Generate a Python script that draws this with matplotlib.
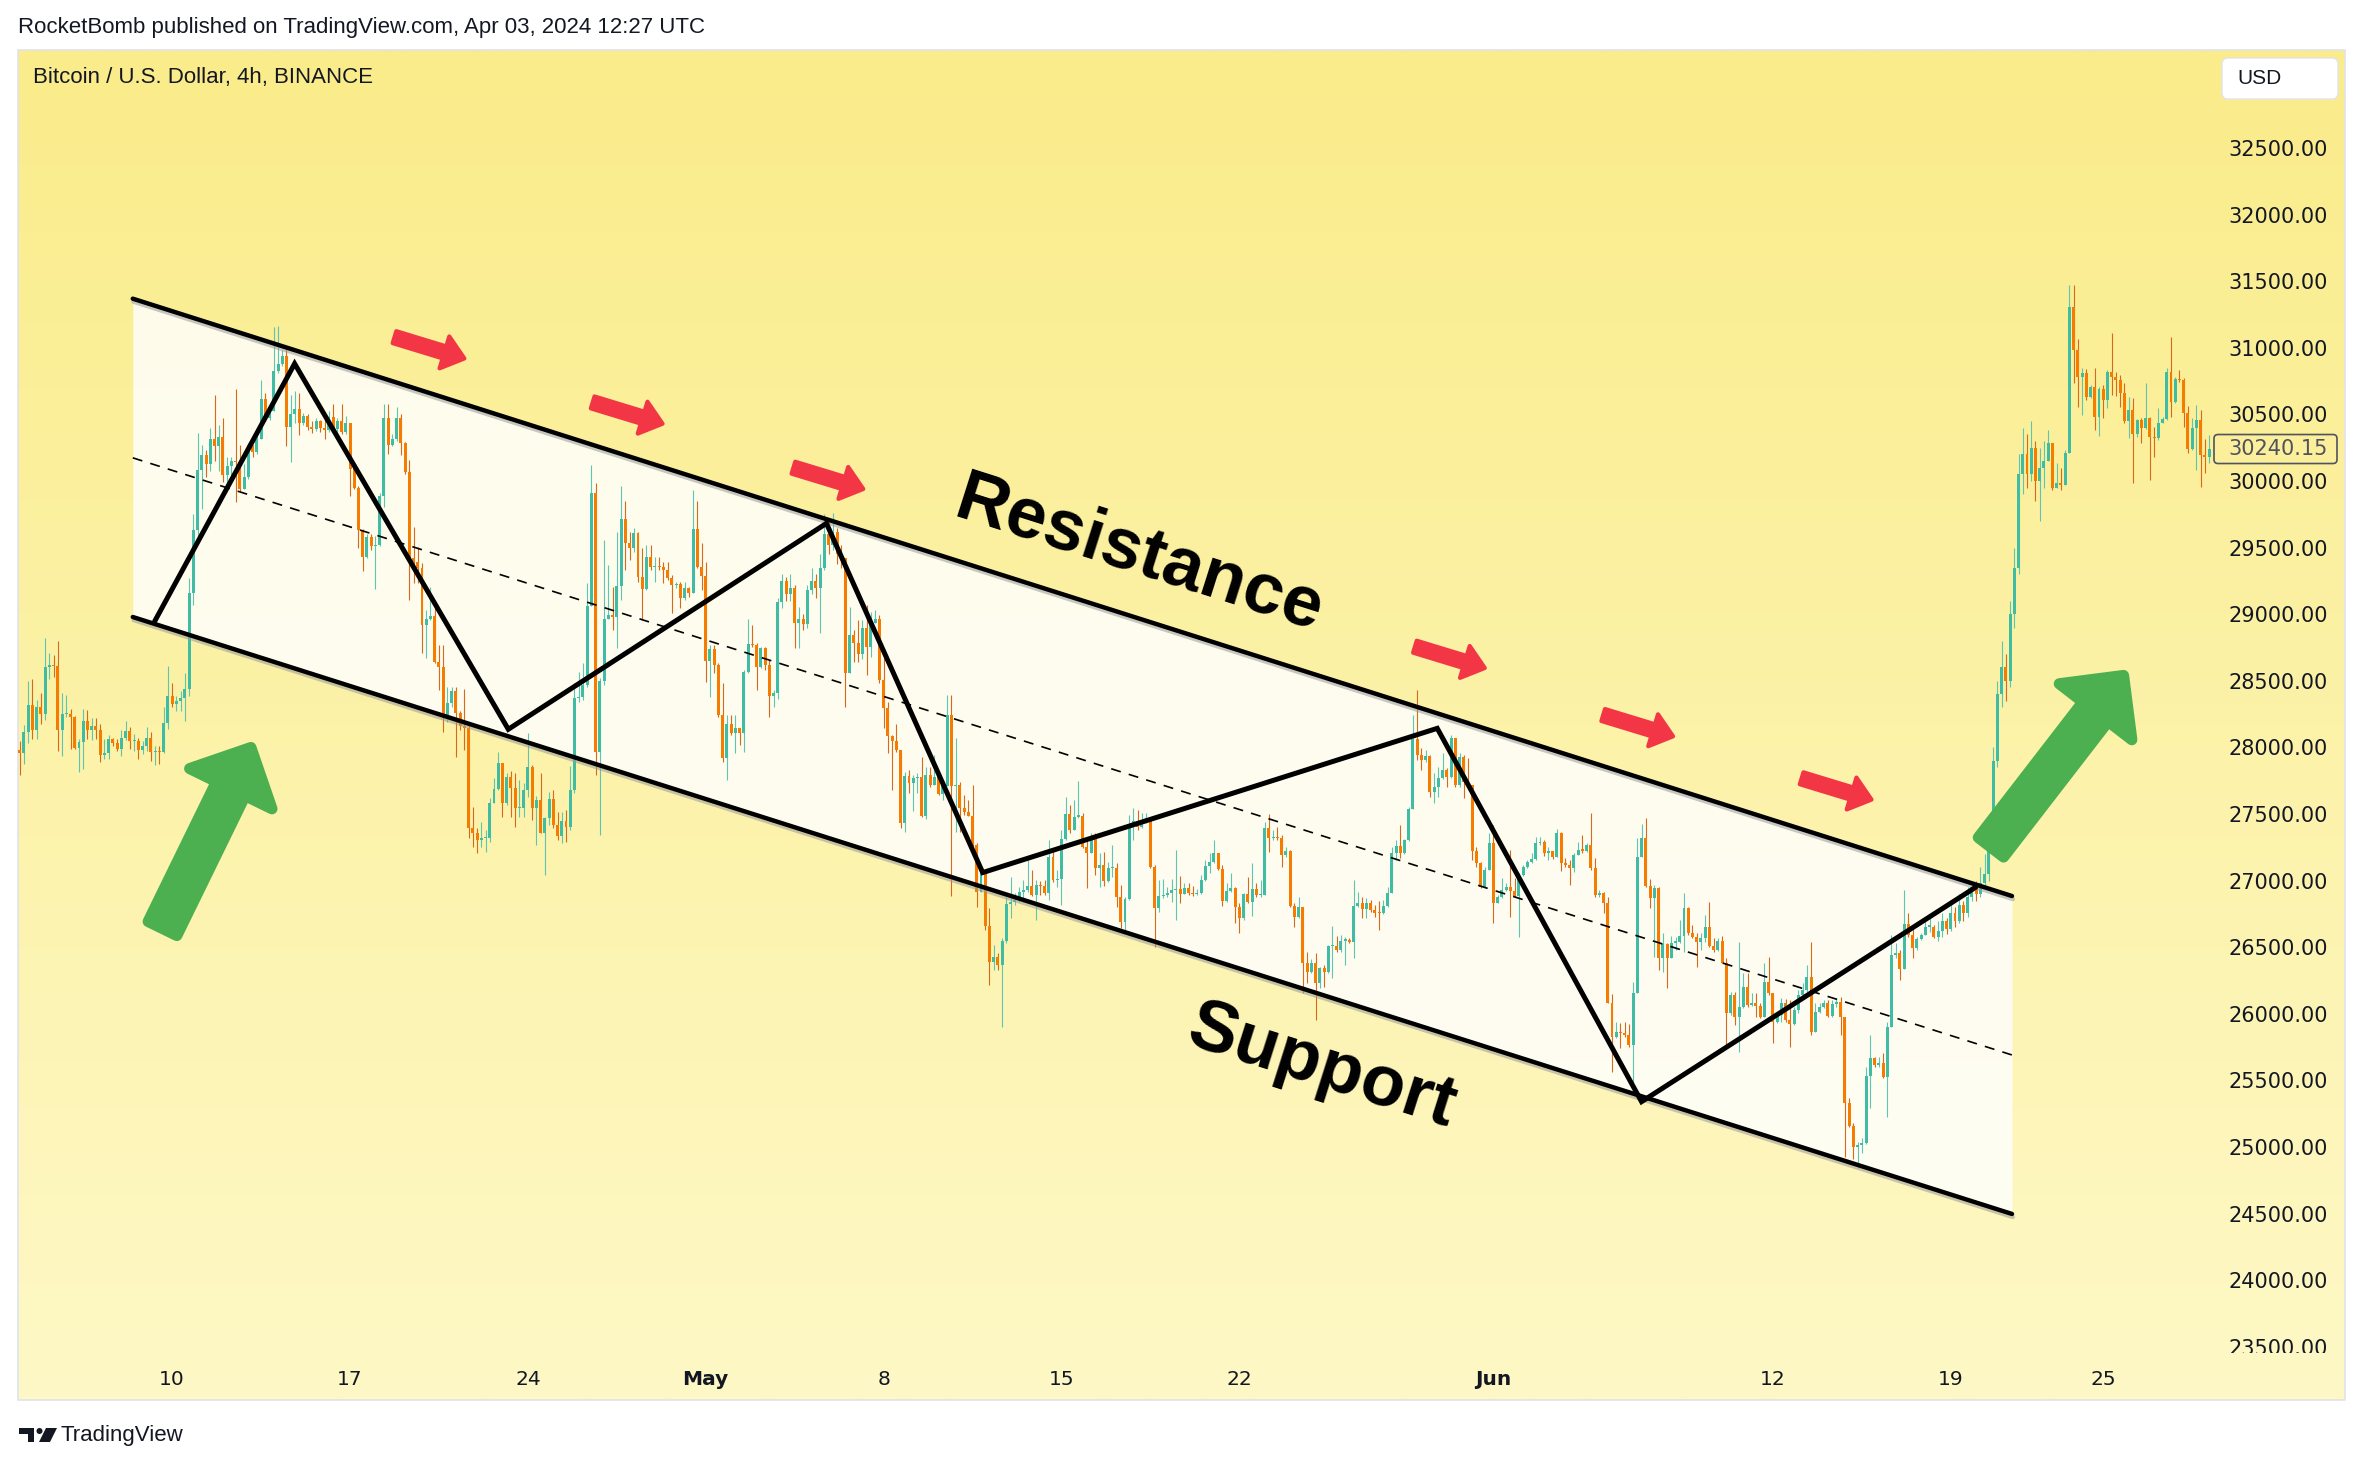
import numpy as np
import pandas as pd
import matplotlib
matplotlib.use("Agg")
import matplotlib.pyplot as plt
import matplotlib.dates as mdates
import matplotlib.patheffects as pe
from matplotlib.patches import FancyArrowPatch, FancyBboxPatch, Rectangle, Polygon, Circle, ArrowStyle
from matplotlib.transforms import Bbox

W, H = 2365, 1466

# ---------------- data (BTC/USD, 4h candles) ----------------
start_time = "2023-04-04 00:00"
first_open = 27981
last_price = 30240.15

close = [
    27959, 28115, 28316, 28128, 28302, 28254, 28603, 28619, 28608, 28133,
    28249, 28254, 28227, 27994, 28040, 28195, 28128, 28160, 28128, 27946,
    27959, 28066, 28034, 27986, 28074, 28123, 28048, 28048, 27981, 28007,
    28074, 27967, 27967, 27962, 28182, 28388, 28329, 28351, 28369, 28442,
    29160, 29630, 30085, 30192, 30131, 30313, 30260, 30332, 30045, 30112,
    30152, 30139, 29943, 30032, 30273, 30219, 30313, 30614, 30474, 30528,
    30828, 30876, 30935, 30407, 30501, 30541, 30434, 30488, 30407, 30388,
    30453, 30399, 30380, 30480, 30388, 30447, 30367, 30434, 30091, 29951,
    29630, 29429, 29576, 29509, 29522, 29890, 30474, 30273, 30319, 30474,
    30283, 30070, 29420, 29395, 29345, 28919, 28962, 28987, 28644, 28601,
    28236, 28331, 28424, 28261, 28161, 28143, 27392, 27355, 27305, 27317,
    27317, 27585, 27685, 27886, 27580, 27780, 27693, 27543, 27543, 27680,
    27855, 27543, 27605, 27360, 27468, 27610, 27418, 27335, 27450, 27405,
    27680, 28369, 28381, 28469, 29062, 29908, 27968, 28501, 28962, 28994,
    28982, 29212, 29712, 29532, 29495, 29607, 29282, 29187, 29432, 29352,
    29357, 29352, 29332, 29269, 29219, 29227, 29119, 29194, 29157, 29640,
    29357, 29287, 28651, 28736, 28619, 28243, 27918, 28176, 28111, 28143,
    28111, 28569, 28776, 28769, 28601, 28744, 28619, 28386, 28406, 29094,
    29250, 29150, 29200, 28932, 28962, 28927, 29180, 29250, 29200, 29350,
    29600, 29520, 29620, 29450, 29420, 28561, 28844, 28787, 28699, 28894,
    28757, 28937, 28962, 28506, 28294, 28086, 28051, 27981, 27430, 27786,
    27731, 27768, 27781, 27485, 27793, 27718, 27781, 27651, 27711, 28244,
    27711, 27718, 27543, 27518, 27485, 27268, 26917, 27060, 26660, 26392,
    26424, 26367, 26550, 26825, 26842, 26855, 26917, 26930, 26960, 26892,
    26967, 26960, 26905, 27180, 27005, 27010, 27310, 27500, 27380, 27480,
    27485, 27255, 27205, 27325, 27093, 27118, 27000, 27093, 27093, 26875,
    26692, 26860, 27425, 27450, 27405, 27443, 27468, 27105, 26792, 26884,
    26892, 26904, 26929, 26934, 26899, 26942, 26904, 26899, 26904, 27004,
    27109, 27142, 27204, 27084, 26849, 26924, 26942, 26799, 26716, 26899,
    26842, 26934, 26892, 26892, 27392, 27317, 27330, 27317, 27192, 27224,
    26809, 26724, 26804, 26379, 26316, 26384, 26228, 26341, 26316, 26509,
    26509, 26479, 26549, 26554, 26541, 26809, 26834, 26784, 26829, 26779,
    26759, 26754, 26809, 26909, 27204, 27259, 27204, 27304, 27535, 28060,
    27943, 27905, 27935, 27667, 27700, 27767, 27830, 27775, 28068, 27717,
    27930, 27742, 27717, 27224, 27129, 26954, 27079, 27280, 26834, 26879,
    26929, 26954, 26924, 26884, 27042, 27104, 27142, 27159, 27280, 27292,
    27204, 27225, 27180, 27360, 27135, 27118, 27092, 27193, 27230, 27225,
    27268, 27092, 26892, 26910, 26835, 26084, 25824, 25866, 25854, 25841,
    25766, 26154, 27175, 27318, 26960, 26867, 26942, 26417, 26524, 26417,
    26534, 26542, 26584, 26792, 26604, 26574, 26542, 26567, 26649, 26509,
    26479, 26549, 26384, 26004, 26141, 25974, 26049, 26204, 26066, 26084,
    26059, 25979, 26242, 26154, 25941, 25991, 26084, 25954, 25924, 26029,
    26141, 26179, 26279, 25866, 26016, 26054, 26079, 25984, 26074, 26091,
    25974, 25333, 25158, 24998, 25015, 25028, 25533, 25666, 25616, 25629,
    25523, 25904, 26442, 26454, 26334, 26674, 26592, 26492, 26559, 26592,
    26654, 26654, 26580, 26620, 26700, 26640, 26760, 26700, 26820, 26760,
    26880, 26950, 26900, 26980, 27050, 27300, 27900, 28400, 28600, 28500,
    29000, 29350, 30050, 30200, 30050, 30250, 30000, 30100, 30150, 30283,
    29945, 29982, 29970, 30213, 31309, 30983, 30783, 30808, 30628, 30703,
    30478, 30688, 30608, 30821, 30778, 30758, 30663, 30453, 30533, 30353,
    30458, 30395, 30470, 30333, 30325, 30438, 30463, 30821, 30596, 30763,
    30758, 30508, 30238, 30395, 30458, 30195, 30178, 30240.15,
]

high = [
    28048, 28168, 28495, 28517, 28356, 28410, 28825, 28705, 28697, 28798,
    28410, 28396, 28289, 28235, 28061, 28289, 28281, 28222, 28222, 28174,
    28066, 28093, 28074, 28061, 28128, 28195, 28155, 28101, 28074, 28048,
    28155, 28115, 28007, 28007, 28302, 28611, 28485, 28383, 28423, 28557,
    29268, 29756, 30362, 30273, 30233, 30399, 30648, 30421, 30474, 30179,
    30179, 30689, 30273, 30126, 30287, 30260, 30340, 30756, 30662, 30568,
    31158, 31163, 30984, 30997, 30648, 30675, 30662, 30514, 30501, 30447,
    30474, 30461, 30474, 30522, 30576, 30474, 30576, 30488, 30434, 30099,
    29965, 29643, 29603, 29603, 29589, 29911, 30581, 30581, 30354, 30555,
    30500, 30290, 30160, 29657, 29507, 29382, 29032, 29207, 29057, 28769,
    28769, 28456, 28456, 28456, 28273, 28436, 28181, 27555, 27392, 27443,
    27380, 27618, 27768, 27968, 27886, 27805, 27825, 27805, 27755, 27730,
    28106, 27868, 27635, 27805, 27480, 27668, 27680, 27518, 27518, 27530,
    27861, 28481, 28569, 28631, 29232, 30120, 29983, 28519, 29557, 29370,
    29207, 29620, 29963, 29852, 29620, 29645, 29620, 29495, 29520, 29520,
    29432, 29432, 29395, 29395, 29294, 29244, 29244, 29244, 29207, 29933,
    29852, 29532, 29395, 28769, 28769, 28631, 28481, 28243, 28243, 28243,
    28143, 28581, 28962, 28919, 28781, 28756, 28756, 28657, 28431, 29120,
    29300, 29280, 29300, 29220, 29057, 29000, 29220, 29350, 29300, 29450,
    29750, 29700, 29760, 29650, 29520, 29420, 29057, 28882, 28957, 28957,
    29069, 29019, 29032, 28994, 28732, 28344, 28094, 28176, 27981, 27818,
    27831, 27793, 27811, 27926, 27856, 27856, 27943, 27806, 27718, 28394,
    28394, 28068, 27743, 27643, 27605, 27718, 27280, 27075, 27080, 26792,
    26517, 26459, 26567, 26880, 27030, 26905, 26955, 27005, 27155, 27080,
    27005, 27000, 27005, 27305, 27218, 27080, 27380, 27630, 27568, 27605,
    27748, 27505, 27330, 27355, 27355, 27205, 27218, 27143, 27268, 27130,
    26967, 26880, 27493, 27543, 27530, 27505, 27505, 27480, 27118, 27004,
    27009, 26954, 27009, 27229, 27034, 26979, 26979, 26959, 26934, 27042,
    27154, 27204, 27305, 27209, 27117, 26979, 27054, 26954, 26829, 26909,
    27029, 27134, 26984, 27004, 27442, 27500, 27380, 27405, 27342, 27254,
    27229, 26829, 26879, 26804, 26466, 26409, 26454, 26354, 26366, 26516,
    26659, 26584, 26591, 26579, 26566, 27004, 26917, 26879, 26867, 26854,
    26817, 26849, 26854, 26954, 27254, 27304, 27417, 27310, 27555, 28243,
    28431, 27993, 27980, 27943, 27805, 27855, 27955, 27843, 28093, 28068,
    27955, 27943, 27918, 27717, 27254, 27142, 27104, 27355, 27417, 26892,
    27017, 26979, 27229, 27017, 27054, 27117, 27154, 27204, 27330, 27330,
    27305, 27255, 27225, 27385, 27368, 27167, 27155, 27205, 27293, 27343,
    27280, 27505, 27167, 26930, 26917, 26880, 26149, 25941, 25929, 25941,
    25924, 26242, 27318, 27425, 27468, 27010, 26967, 26955, 26604, 26534,
    26584, 26579, 26704, 26905, 26805, 26667, 26604, 26604, 26742, 26842,
    26567, 26567, 26584, 26417, 26167, 26167, 26542, 26304, 26304, 26154,
    26159, 26079, 26379, 26424, 26154, 26016, 26117, 26109, 26104, 26054,
    26179, 26229, 26367, 26542, 26079, 26079, 26104, 26104, 26104, 26117,
    26129, 25979, 25366, 25178, 25040, 25065, 25603, 25841, 25679, 25679,
    25709, 25941, 26592, 26529, 26479, 26930, 26755, 26654, 26579, 26604,
    26704, 26729, 26667, 26700, 26760, 26720, 26820, 26800, 26900, 26850,
    26950, 27000, 27000, 27100, 27200, 27400, 28000, 28500, 28800, 28700,
    29100, 29500, 30200, 30400, 30350, 30450, 30300, 30250, 30300, 30383,
    30120, 30133, 30095, 30233, 31471, 31471, 31063, 30846, 30838, 30721,
    30846, 30708, 30721, 30833, 31109, 30821, 30796, 30733, 30633, 30621,
    30463, 30470, 30733, 30483, 30408, 30545, 30483, 30846, 31084, 30783,
    30833, 30771, 30563, 30470, 30571, 30533, 30313, 30345,
]

low = [
    27793, 27873, 28034, 28066, 28066, 28174, 28208, 28517, 28530, 27975,
    27932, 28227, 27986, 27986, 27814, 27841, 28066, 28053, 28066, 27887,
    27914, 27914, 28013, 27973, 27932, 28056, 27986, 27975, 27914, 27954,
    27975, 27900, 27865, 27873, 27959, 28141, 28302, 28276, 28276, 28200,
    28383, 29067, 29589, 29790, 30032, 30072, 30152, 30072, 29992, 29965,
    30045, 29844, 29925, 29938, 30018, 30179, 30206, 30380, 30447, 30461,
    30528, 30809, 30863, 30265, 30139, 30434, 30345, 30421, 30380, 30362,
    30372, 30367, 30313, 30367, 30372, 30362, 30354, 30354, 29884, 29938,
    29496, 29321, 29423, 29482, 29192, 29509, 29804, 30201, 30260, 30300,
    30195, 30050, 29107, 29232, 29232, 28706, 28669, 28957, 28631, 28431,
    28118, 28193, 28306, 27931, 28131, 27981, 27317, 27255, 27205, 27255,
    27217, 27292, 27580, 27680, 27480, 27568, 27480, 27405, 27480, 27480,
    27630, 27455, 27268, 27355, 27042, 27418, 27393, 27305, 27280, 27292,
    27380, 27655, 28344, 28356, 28456, 29062, 27793, 27342, 28469, 28962,
    28882, 28744, 29107, 29332, 29407, 29470, 29244, 28957, 29182, 29332,
    29244, 29332, 29232, 29257, 29007, 29194, 29044, 29107, 29132, 29157,
    29345, 29182, 28494, 28381, 28556, 28231, 27893, 27756, 28093, 27956,
    28018, 27968, 28556, 28756, 28431, 28594, 28581, 28231, 28306, 28361,
    29050, 29100, 29100, 28749, 28749, 28880, 28900, 29150, 29120, 28862,
    29330, 29450, 29480, 29380, 29350, 28306, 28561, 28644, 28644, 28662,
    28544, 28682, 28932, 28486, 28144, 27956, 27681, 27968, 27393, 27368,
    27661, 27525, 27656, 27475, 27460, 27706, 27718, 27643, 27605, 27711,
    26885, 27368, 27368, 27493, 27485, 27255, 26805, 26917, 26630, 26217,
    26329, 26329, 25904, 26529, 26717, 26817, 26842, 26842, 26917, 26885,
    26705, 26892, 26892, 26855, 26992, 26950, 26817, 27305, 27355, 27380,
    27468, 27243, 26942, 27205, 27043, 26955, 26960, 26992, 27030, 26800,
    26642, 26630, 26855, 27305, 27380, 27393, 27430, 27093, 26504, 26767,
    26867, 26879, 26842, 26704, 26829, 26899, 26892, 26884, 26892, 26899,
    26999, 27054, 27134, 27079, 26809, 26842, 26917, 26679, 26604, 26704,
    26829, 26734, 26879, 26879, 26892, 27217, 27305, 27305, 27104, 27179,
    26804, 26654, 26716, 26153, 26228, 26304, 25953, 26191, 26203, 26304,
    26266, 26466, 26466, 26366, 26529, 26416, 26804, 26716, 26716, 26767,
    26729, 26629, 26749, 26804, 26904, 27154, 27167, 27199, 27300, 27535,
    27905, 27830, 27893, 27630, 27580, 27630, 27760, 27705, 27767, 27705,
    27705, 27617, 27705, 27154, 27104, 26942, 26942, 27079, 26684, 26829,
    26867, 26924, 26729, 26879, 26579, 27034, 27092, 27129, 27154, 27267,
    27184, 27155, 27160, 27180, 27075, 27105, 26967, 27067, 27193, 27205,
    27218, 27080, 26880, 26880, 26755, 26079, 25566, 25816, 25741, 25829,
    25754, 25466, 26159, 27175, 26955, 26792, 26424, 26329, 26317, 26192,
    26417, 26479, 26529, 26467, 26592, 26567, 26354, 26479, 26542, 26504,
    26467, 26474, 26379, 25766, 25991, 25916, 25716, 26041, 26054, 26059,
    25979, 25966, 25974, 26141, 25779, 25929, 25941, 25941, 25754, 25916,
    26004, 26116, 26167, 25841, 25866, 26004, 26041, 25974, 25979, 26054,
    25841, 24928, 25148, 24908, 24840, 24953, 25023, 25291, 25603, 25603,
    25516, 25228, 25904, 26417, 26254, 26334, 26579, 26417, 26479, 26554,
    26592, 26617, 26567, 26550, 26580, 26600, 26620, 26650, 26680, 26700,
    26730, 26850, 26850, 26880, 26950, 27000, 27250, 27850, 28300, 28350,
    28450, 28900, 29300, 29900, 29950, 30000, 29850, 29700, 29950, 30183,
    29932, 29957, 29932, 29970, 30213, 30733, 30558, 30495, 30608, 30621,
    30383, 30338, 30470, 30545, 30646, 30638, 30553, 30433, 30320, 29982,
    30333, 30283, 30388, 30007, 30183, 30308, 30433, 30458, 30483, 30583,
    30746, 30408, 30213, 30233, 30083, 29958, 30063, 30133,
]

time_tick_dates = ["2023-04-10", "2023-04-17", "2023-04-24", "2023-05-01", "2023-05-08",
                   "2023-05-15", "2023-05-22", "2023-06-01", "2023-06-12", "2023-06-19",
                   "2023-06-25"]
time_tick_labels = ["10", "17", "24", "May", "8", "15", "22", "Jun", "12", "19", "25"]
time_tick_bold = ["May", "Jun"]
price_ticks = [23500, 24000, 24500, 25000, 25500, 26000, 26500, 27000, 27500, 28000,
               28500, 29000, 29500, 30000, 30500, 31000, 31500, 32000, 32500]

# drawings: (days after start_time, price)
channel_days = [4.45, 78.41]
channel_upper = [31369, 26884]
channel_lower = [28979, 24497]
zigzag_days = [5.31, 10.82, 19.23, 31.75, 37.90, 55.79, 63.83, 76.98]
zigzag_prices = [28946, 30881, 28136, 29682, 27060, 28143, 25340, 26950]
red_arrow_days = [14.75, 22.55, 30.45, 54.91, 62.32, 70.13]
red_arrow_prices = [31080, 30590, 30100, 28756, 28243, 27768]
red_arrow_delta = (2.75, -160)
green_tail_days = [5.62, 77.58]
green_tail_prices = [26640, 27250]
green_tip_days = [9.10, 82.80]
green_tip_prices = [27999, 28540]
label_texts = ["Resistance", "Support"]
label_days = [44.04, 51.28]
label_prices = [29444, 25594]

# ---------------- figure ----------------
fig = plt.figure(figsize=(W / 100, H / 100), dpi=100)
fig.patch.set_facecolor("white")

bg = fig.add_axes([0, 0, 1, 1], zorder=0)
bg.set_xlim(0, W)
bg.set_ylim(H, 0)
bg.axis("off")

# yellow gradient panel
top_c = np.array([250, 236, 138]) / 255.0
bot_c = np.array([254, 248, 198]) / 255.0
t = np.linspace(0, 1, 256)[:, None]
grad = (top_c[None, :] * (1 - t) + bot_c[None, :] * t)[:, None, :]
bg.imshow(grad, extent=[18, 2345, 1400, 50], aspect="auto", interpolation="bilinear", zorder=0)
bg.add_patch(Rectangle((18, 50), 2327, 1350, fill=False, edgecolor="#E0E3EB", lw=1.2, zorder=1))

bg.text(18, 27, "RocketBomb published on TradingView.com, Apr 03, 2024 12:27 UTC",
        fontsize=16, family="Liberation Sans", color="#131722", va="center", ha="left")
bg.text(33, 77, "Bitcoin / U.S. Dollar, 4h, BINANCE",
        fontsize=16, family="Liberation Sans", color="#131722", va="center", ha="left")

# USD box
bg.add_patch(FancyBboxPatch((2222, 58), 116, 41, boxstyle="round,pad=0,rounding_size=6",
                            facecolor="white", edgecolor="#E0E3EB", lw=1.0, zorder=3))
bg.text(2237, 79, "USD", fontsize=15, family="Liberation Sans", color="#131722",
        va="center", ha="left", zorder=4)

# TradingView footer logo
logo_c = "#131722"
bg.add_patch(Polygon([(19, 1428), (34, 1428), (34, 1442), (28, 1442), (28, 1434), (19, 1434)],
                     closed=True, facecolor=logo_c, edgecolor="none"))
bg.add_patch(Circle((39.5, 1431), 3.0, facecolor=logo_c, edgecolor="none"))
bg.add_patch(Polygon([(46, 1428), (57, 1428), (50, 1442), (39, 1442)],
                     closed=True, facecolor=logo_c, edgecolor="none"))
bg.text(61, 1435, "TradingView", fontsize=16, family="Liberation Sans", color=logo_c,
        va="center", ha="left")

# ---------------- main price axes ----------------
ax_l, ax_r, ax_t, ax_b = 18, 2213, 50, 1353
ax = fig.add_axes([ax_l / W, 1 - ax_b / H, (ax_r - ax_l) / W, (ax_b - ax_t) / H], zorder=2)
ax.patch.set_alpha(0)
for s in ax.spines.values():
    s.set_visible(False)

t0 = mdates.date2num(pd.Timestamp(start_time).to_pydatetime())
times = pd.date_range(start_time, periods=len(close), freq="4h")
x = mdates.date2num(times.to_pydatetime())
c = np.array(close, dtype=float)
o = np.concatenate([[first_open], c[:-1]])
h = np.maximum(np.array(high, dtype=float), np.maximum(o, c))
lo = np.minimum(np.array(low, dtype=float), np.minimum(o, c))
up = c >= o

ax.set_xlim(t0 - 0.067, t0 + 86.32)
ax.set_ylim(23453, 33236)

# channel fill
cd = t0 + np.array(channel_days)
ax.fill_between(cd, channel_lower, channel_upper, color="white", alpha=0.82, lw=0, zorder=1)

# candles
up_body, dn_body = "#3FBCA3", "#F57C00"
up_wick, dn_wick = "#5CC6B3", "#D9691A"
ax.vlines(x, lo, h, colors=np.where(up, up_wick, dn_wick), lw=0.8, zorder=2)
body_w = 4 / 24 * 0.7
body_h = np.maximum(np.abs(c - o), 9)
ax.bar(x, body_h, bottom=np.minimum(o, c), width=body_w,
       color=np.where(up, up_body, dn_body), linewidth=0, zorder=3)

# channel lines
shadow = [pe.SimpleLineShadow(offset=(0.6, -2.2), shadow_color="#9a9a9a", alpha=0.55), pe.Normal()]
ax.plot(cd, channel_upper, color="black", lw=3.2, solid_capstyle="round", zorder=5,
        path_effects=shadow)
ax.plot(cd, channel_lower, color="black", lw=3.2, solid_capstyle="round", zorder=5,
        path_effects=shadow)
mid = (np.array(channel_upper) + np.array(channel_lower)) / 2
ax.plot(cd, mid, color="black", lw=1.2, linestyle=(0, (6, 5)), zorder=5)

# zigzag
ax.plot(t0 + np.array(zigzag_days), zigzag_prices, color="black", lw=3.6,
        solid_joinstyle="miter", solid_capstyle="round", zorder=6)

# red arrows
for d, p in zip(red_arrow_days, red_arrow_prices):
    arr = FancyArrowPatch((t0 + d, p), (t0 + d + red_arrow_delta[0], p + red_arrow_delta[1]),
                          arrowstyle=ArrowStyle.Simple(head_length=15, head_width=24, tail_width=9),
                          mutation_scale=1, shrinkA=0, shrinkB=0, facecolor="#F23645",
                          edgecolor="#F23645", lw=3.0, joinstyle="round", capstyle="round", zorder=7)
    ax.add_patch(arr)

# green arrows
for td, tp, hd, hp in zip(green_tail_days, green_tail_prices, green_tip_days, green_tip_prices):
    arr = FancyArrowPatch((t0 + td, tp), (t0 + hd, hp),
                          arrowstyle=ArrowStyle.Simple(head_length=33, head_width=66, tail_width=23),
                          mutation_scale=1, shrinkA=0, shrinkB=0, facecolor="#4CAF50",
                          edgecolor="#4CAF50", lw=8, joinstyle="round", capstyle="round", zorder=7)
    ax.add_patch(arr)

# rotated labels following channel slope
p0 = ax.transData.transform((cd[0], channel_upper[0]))
p1 = ax.transData.transform((cd[1], channel_upper[1]))
angle = np.degrees(np.arctan2(p1[1] - p0[1], p1[0] - p0[0]))
for txt, d, p in zip(label_texts, label_days, label_prices):
    ax.text(t0 + d, p, txt, fontsize=52, fontweight="bold", family="Liberation Sans",
            color="black", rotation=angle, rotation_mode="anchor", ha="center", va="center",
            zorder=8)

# price scale (right)
ax.yaxis.tick_right()
ax.set_yticks(price_ticks)
ax.set_yticklabels([f"{v:.2f}" for v in price_ticks])
ax.tick_params(axis="y", length=0, pad=(2328 - ax_r) * 0.72, labelsize=15, labelcolor="#131722")
clip_bb = Bbox([[ax_r, H - ax_b], [2345, H - ax_t]])
for tk in ax.yaxis.get_major_ticks():
    for lb in (tk.label1, tk.label2):
        lb.set_horizontalalignment("right")
        lb.set_family("DejaVu Sans")
        lb.set_clip_box(clip_bb)
        lb.set_clip_on(True)

# time scale
ax.set_xticks(mdates.date2num(pd.to_datetime(time_tick_dates).to_pydatetime()))
ax.set_xticklabels(time_tick_labels)
ax.tick_params(axis="x", length=0, pad=12, labelsize=14.5, labelcolor="#131722")
for lb in ax.get_xticklabels():
    lb.set_family("DejaVu Sans")
    if lb.get_text() in time_tick_bold:
        lb.set_fontweight("bold")

# last price label
yl = ax.transData.transform((0, last_price))[1]
ypx = H - yl
bg.add_patch(FancyBboxPatch((2214, ypx - 14.5), 123, 29, boxstyle="round,pad=0,rounding_size=4",
                            facecolor="none", edgecolor="#50535E", lw=1.2, zorder=5))
bg.text(2328, ypx, f"{last_price:.2f}", fontsize=15, family="DejaVu Sans", color="#50535E",
        ha="right", va="center", zorder=6)

fig.savefig("out.png", dpi=100)
